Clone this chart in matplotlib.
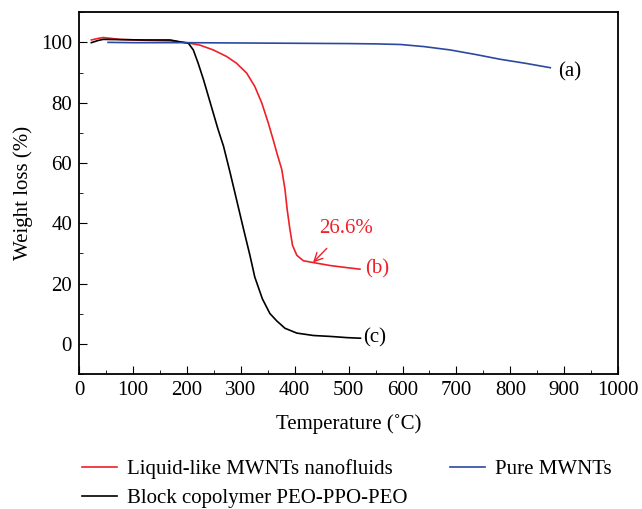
import numpy as np
import matplotlib
matplotlib.use("Agg")
import matplotlib.pyplot as plt
from matplotlib.ticker import MultipleLocator

plt.rcParams['font.family'] = ['Liberation Serif', 'DejaVu Serif']

# (a) pure MWNTs
t_a = [54, 100, 200, 300, 400, 500, 550, 596, 640, 688, 735, 781, 830, 874]
w_a = [100.0, 99.9, 99.9, 99.8, 99.7, 99.6, 99.5, 99.3, 98.6, 97.5, 96.0, 94.4, 93.0, 91.6]

# (b) liquid-like MWNTs nanofluids
t_b = [23, 35, 45, 60, 76, 120, 169, 200, 224, 249, 274, 292, 311, 326, 339, 351,
       360, 367, 376, 382, 386, 391, 396, 404, 416, 434, 466, 497, 521]
w_b = [100.8, 101.3, 101.6, 101.3, 101.0, 100.7, 100.5, 99.9, 99.1, 97.5, 95.3, 93.1,
       89.8, 85.4, 79.9, 73.3, 67.8, 63.3, 57.9, 51.3, 44.7, 38.2, 32.7, 29.4, 27.6,
       27.0, 26.0, 25.3, 24.8]

# (c) block copolymer PEO-PPO-PEO
t_c = [23, 35, 45, 80, 120, 169, 187, 203, 212, 221, 231, 240, 249, 258, 268, 280,
       292, 305, 317, 326, 340, 354, 367, 382, 404, 435, 466, 497, 522]
w_c = [99.9, 100.6, 101.0, 100.9, 100.8, 100.8, 100.2, 99.7, 97.5, 93.1, 87.6, 82.1,
       76.6, 71.1, 65.6, 57.0, 48.0, 38.2, 29.4, 22.2, 15.0, 10.1, 7.6, 5.2, 3.6,
       2.8, 2.5, 2.1, 1.9]

red = '#f02028'
blue = '#2a4aa0'
fs = 15

fig = plt.figure(figsize=(6.42, 5.09), dpi=100)
ax = fig.add_axes([0.123, 0.265, 0.840, 0.711])

l_b, = ax.plot(t_b, w_b, color=red, lw=1.2, label='Liquid-like MWNTs nanofluids')
l_c, = ax.plot(t_c, w_c, color='black', lw=1.2, label='Block copolymer PEO-PPO-PEO')
l_a, = ax.plot(t_a, w_a, color=blue, lw=1.2, label='Pure MWNTs')

ax.set_xlim(0, 1000)
ax.set_ylim(-10, 110)
ax.xaxis.set_major_locator(MultipleLocator(100))
ax.xaxis.set_minor_locator(MultipleLocator(50))
ax.yaxis.set_major_locator(MultipleLocator(20))
ax.yaxis.set_minor_locator(MultipleLocator(10))
ax.tick_params(which='both', direction='in', top=False, right=False, labelsize=fs)
ax.tick_params(which='major', length=6, pad=5)
ax.tick_params(which='minor', length=3)
for s in ax.spines.values():
    s.set_linewidth(1.3)

ax.set_xlabel('Temperature (\u02daC)', fontsize=fs, labelpad=10)
ax.set_ylabel('Weight loss (%)', fontsize=fs, labelpad=6)

ax.text(889, 90.2, '(a)', fontsize=fs, va='center', ha='left')
ax.text(530, 25.0, '(b)', fontsize=fs, va='center', ha='left', color=red)
ax.text(526, 1.9, '(c)', fontsize=fs, va='center', ha='left')
ax.annotate('26.6%', xy=(434, 27.0), xytext=(496, 38.4), color=red, fontsize=fs,
            ha='center', va='center',
            arrowprops=dict(arrowstyle='->', color=red, lw=1.0, shrinkA=8, shrinkB=0))

fig.legend(handles=[l_b, l_c, l_a], loc='lower left', bbox_to_anchor=(0.098, -0.035),
           ncol=2, frameon=False, fontsize=fs, handlelength=1.7, handletextpad=0.5,
           columnspacing=2.0, labelspacing=0.45)

fig.savefig('out.png', dpi=100)
